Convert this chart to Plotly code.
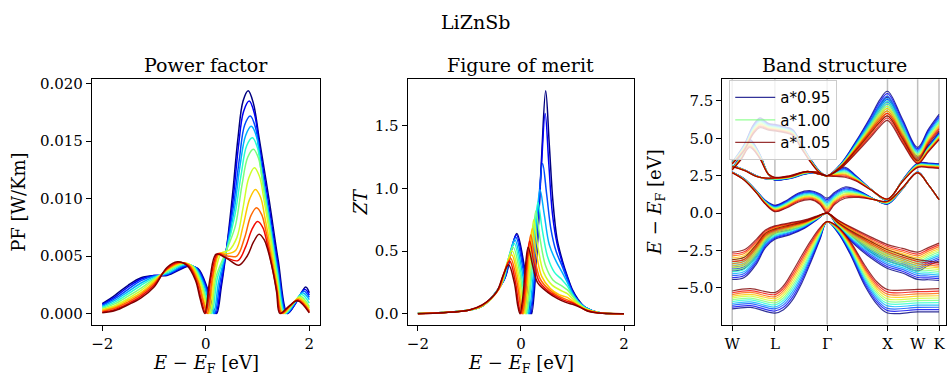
import plotly.graph_objects as go

W, H = 950, 379

# ---------------- data ----------------
scale_factors = [0.95, 0.96, 0.97, 0.98, 0.99, 1.00, 1.01, 1.02, 1.03, 1.04, 1.05]

# Power factor, energy [eV] and PF [1e-3 W/Km], one list per lattice scaling
pf_energy = [
    [-2.0,-1.75,-1.5,-1.25,-1.0,-0.75,-0.33,-0.15,0.03,0.12,0.21,0.3,0.4,0.52,0.62,0.72,0.82,0.92,1.03,1.22,1.4,1.58,1.75,1.93,2.0],
    [-2.0,-1.75,-1.5,-1.25,-1.0,-0.75,-0.35,-0.17,0.01,0.10,0.19,0.29,0.4,0.53,0.63,0.73,0.84,0.94,1.04,1.22,1.39,1.57,1.74,1.91,2.0],
    [-2.0,-1.75,-1.5,-1.25,-1.0,-0.75,-0.37,-0.19,-0.01,0.08,0.17,0.27,0.4,0.54,0.65,0.75,0.86,0.96,1.05,1.22,1.39,1.56,1.73,1.89,2.0],
    [-2.0,-1.75,-1.5,-1.25,-1.0,-0.75,-0.39,-0.21,-0.03,0.06,0.15,0.25,0.4,0.55,0.66,0.77,0.88,0.98,1.07,1.23,1.38,1.54,1.71,1.87,2.0],
    [-2.0,-1.75,-1.5,-1.25,-1.0,-0.75,-0.41,-0.23,-0.06,0.03,0.12,0.22,0.4,0.56,0.68,0.79,0.9,1.0,1.08,1.23,1.38,1.53,1.7,1.85,2.0],
    [-2.0,-1.75,-1.5,-1.25,-1.0,-0.75,-0.43,-0.25,-0.08,0.01,0.10,0.2,0.4,0.57,0.7,0.81,0.92,1.02,1.1,1.24,1.37,1.51,1.68,1.83,2.0],
    [-2.0,-1.75,-1.5,-1.25,-1.0,-0.75,-0.45,-0.27,-0.10,-0.01,0.08,0.18,0.3,0.45,0.6,0.72,0.83,0.94,1.04,1.12,1.25,1.37,1.5,1.66,1.81,2.0],
    [-2.0,-1.75,-1.5,-1.25,-1.0,-0.75,-0.47,-0.29,-0.13,-0.04,0.05,0.15,0.27,0.42,0.58,0.72,0.85,0.96,1.06,1.14,1.26,1.37,1.49,1.65,1.8,2.0],
    [-2.0,-1.75,-1.5,-1.25,-1.0,-0.75,-0.50,-0.32,-0.15,-0.06,0.03,0.13,0.25,0.42,0.6,0.75,0.87,0.98,1.08,1.16,1.27,1.37,1.47,1.63,1.79,2.0],
    [-2.0,-1.75,-1.5,-1.25,-1.0,-0.75,-0.52,-0.34,-0.18,-0.09,0.0,0.1,0.23,0.4,0.62,0.77,0.89,1.0,1.1,1.18,1.28,1.37,1.45,1.62,1.78,2.0],
    [-2.0,-1.75,-1.5,-1.25,-1.0,-0.75,-0.55,-0.37,-0.20,-0.11,-0.02,0.08,0.2,0.4,0.64,0.8,0.92,1.03,1.13,1.2,1.3,1.37,1.43,1.6,1.77,2.0],
]
pf_value = [
    [0.85,1.6,2.45,3.1,3.3,3.3,4.1,3.9,2.2,0.8,0.0,2.3,5.6,10.5,15.2,18.5,19.4,18.3,15.3,10.0,4.6,0.0,1.0,2.3,1.8],
    [0.78,1.45,2.3,3.0,3.3,3.35,4.15,3.95,2.3,0.85,0.0,2.4,5.6,10.0,14.5,17.6,18.5,17.4,14.5,9.4,4.4,0.0,0.9,2.1,1.6],
    [0.70,1.3,2.1,2.85,3.25,3.4,4.2,3.98,2.35,0.9,0.0,2.6,5.6,9.5,13.5,16.4,17.2,16.2,13.6,8.7,4.0,0.0,0.9,1.95,1.4],
    [0.60,1.15,1.9,2.65,3.2,3.45,4.25,4.02,2.4,0.95,0.0,2.8,5.5,9.0,12.8,15.5,16.3,15.4,12.8,8.3,3.8,0.0,0.9,1.8,1.2],
    [0.52,1.0,1.7,2.45,3.1,3.55,4.3,4.06,2.5,1.0,0.0,3.0,5.5,8.5,12.0,14.6,15.3,14.4,12.0,7.8,3.6,0.0,0.85,1.65,0.9],
    [0.43,0.85,1.5,2.2,3.0,3.65,4.35,4.1,2.55,1.05,0.0,3.2,5.5,7.6,11.2,13.6,14.3,13.5,11.4,7.3,3.4,0.0,0.8,1.5,0.6],
    [0.35,0.7,1.3,2.0,2.9,3.75,4.38,4.12,2.6,1.1,0.0,3.4,5.25,5.5,6.6,9.2,11.8,12.7,11.9,10.0,6.5,3.0,0.0,0.75,1.4,0.45],
    [0.27,0.58,1.15,1.8,2.75,3.8,4.4,4.14,2.7,1.15,0.0,3.3,5.25,5.2,5.5,7.6,10.0,10.8,10.1,8.4,5.5,2.6,0.0,0.7,1.3,0.3],
    [0.18,0.47,1.0,1.65,2.6,3.85,4.42,4.16,2.75,1.2,0.0,3.2,5.2,5.0,5.0,6.6,8.5,9.2,8.6,7.2,4.7,2.3,0.0,0.65,1.2,0.2],
    [0.1,0.35,0.85,1.5,2.45,3.9,4.45,4.18,2.85,1.25,0.0,3.1,5.2,4.85,4.6,5.8,7.3,8.0,7.5,6.2,4.1,2.0,0.0,0.65,1.15,0.1],
    [0.05,0.25,0.75,1.35,2.3,4.0,4.5,4.2,2.9,1.3,0.0,3.0,5.15,4.8,4.2,5.0,6.2,6.9,6.4,5.5,3.6,1.8,0.0,0.6,1.1,0.05],
]
PF_UNIT = 1e-3

# Figure of merit ZT
zt_energy = [
    [-2.0,-1.5,-1.0,-0.75,-0.32,-0.19,-0.08,0.065,0.17,0.21,0.305,0.40,0.48,0.55,0.62,0.7,0.8,0.9,1.0,1.1,1.25,1.5,2.0],
    [-2.0,-1.5,-1.0,-0.75,-0.33,-0.20,-0.09,0.05,0.15,0.19,0.29,0.39,0.47,0.54,0.61,0.7,0.8,0.9,1.0,1.1,1.25,1.5,2.0],
    [-2.0,-1.5,-1.0,-0.75,-0.34,-0.21,-0.10,0.035,0.13,0.17,0.26,0.345,0.42,0.5,0.58,0.68,0.8,0.9,1.0,1.1,1.25,1.5,2.0],
    [-2.0,-1.5,-1.0,-0.75,-0.36,-0.23,-0.12,0.015,0.11,0.15,0.227,0.304,0.37,0.45,0.55,0.68,0.8,0.9,1.0,1.1,1.25,1.5,2.0],
    [-2.0,-1.5,-1.0,-0.75,-0.37,-0.24,-0.13,-0.005,0.08,0.12,0.19,0.27,0.33,0.41,0.52,0.65,0.8,0.9,1.0,1.1,1.25,1.5,2.0],
    [-2.0,-1.5,-1.0,-0.75,-0.39,-0.26,-0.15,-0.025,0.06,0.10,0.167,0.233,0.29,0.37,0.48,0.62,0.8,0.9,1.0,1.1,1.25,1.5,2.0],
    [-2.0,-1.5,-1.0,-0.75,-0.41,-0.28,-0.17,-0.045,0.04,0.08,0.14,0.20,0.25,0.33,0.44,0.6,0.8,0.9,1.0,1.1,1.25,1.5,2.0],
    [-2.0,-1.5,-1.0,-0.75,-0.42,-0.29,-0.18,-0.065,0.01,0.05,0.11,0.17,0.22,0.3,0.4,0.57,0.75,0.9,1.0,1.1,1.25,1.5,2.0],
    [-2.0,-1.5,-1.0,-0.75,-0.44,-0.31,-0.20,-0.085,-0.01,0.03,0.086,0.142,0.19,0.27,0.37,0.55,0.73,0.9,1.0,1.1,1.25,1.5,2.0],
    [-2.0,-1.5,-1.0,-0.75,-0.46,-0.33,-0.22,-0.11,-0.04,0.0,0.06,0.12,0.17,0.25,0.35,0.53,0.72,0.88,1.0,1.12,1.28,1.5,2.0],
    [-2.0,-1.5,-1.0,-0.75,-0.48,-0.35,-0.24,-0.13,-0.06,-0.02,0.036,0.092,0.14,0.23,0.32,0.52,0.71,0.87,1.0,1.15,1.3,1.5,2.0],
]
zt_value = [
    [0.005,0.01,0.03,0.06,0.275,0.5,0.64,0.38,0.09,0.0,0.45,1.25,1.78,1.35,0.9,0.6,0.43,0.3,0.19,0.12,0.05,0.01,0.0],
    [0.004,0.01,0.03,0.06,0.27,0.49,0.63,0.38,0.09,0.0,0.4,1.12,1.6,1.2,0.8,0.56,0.41,0.29,0.18,0.11,0.05,0.01,0.0],
    [0.003,0.01,0.03,0.06,0.26,0.475,0.61,0.37,0.09,0.0,0.3,0.9,1.2,0.95,0.68,0.5,0.38,0.27,0.17,0.11,0.05,0.01,0.0],
    [0.003,0.01,0.03,0.06,0.255,0.46,0.59,0.355,0.09,0.0,0.25,0.74,0.99,0.8,0.55,0.42,0.33,0.25,0.16,0.1,0.05,0.01,0.0],
    [0.002,0.01,0.03,0.06,0.24,0.44,0.56,0.34,0.085,0.0,0.22,0.67,0.89,0.68,0.45,0.33,0.27,0.22,0.15,0.1,0.045,0.01,0.0],
    [0.002,0.01,0.03,0.06,0.23,0.415,0.53,0.33,0.08,0.0,0.2,0.61,0.82,0.6,0.38,0.27,0.22,0.19,0.14,0.09,0.04,0.01,0.0],
    [0.001,0.01,0.03,0.06,0.215,0.39,0.5,0.31,0.075,0.0,0.19,0.56,0.75,0.53,0.33,0.23,0.18,0.16,0.12,0.08,0.04,0.01,0.0],
    [0.001,0.009,0.03,0.065,0.2,0.365,0.47,0.29,0.07,0.0,0.17,0.51,0.68,0.48,0.3,0.2,0.15,0.13,0.1,0.07,0.035,0.008,0.0],
    [0.0,0.009,0.03,0.065,0.19,0.345,0.44,0.27,0.065,0.0,0.16,0.47,0.63,0.44,0.28,0.19,0.14,0.11,0.09,0.065,0.03,0.007,0.0],
    [0.0,0.008,0.03,0.07,0.18,0.325,0.42,0.26,0.06,0.0,0.145,0.435,0.58,0.41,0.26,0.18,0.13,0.1,0.085,0.06,0.025,0.006,0.0],
    [0.0,0.008,0.03,0.07,0.17,0.3,0.39,0.25,0.06,0.0,0.13,0.4,0.53,0.38,0.25,0.17,0.12,0.09,0.075,0.05,0.02,0.005,0.0],
]

# Band structure: high-symmetry path
kpath_labels = ["W", "L", "Γ", "X", "W", "K"]
kpath_pos = [0.0, 0.707, 1.573, 2.573, 3.073, 3.427]

# each row: energies [eV] at one k point for the 11 lattice scalings (0.95 ... 1.05)
band_v3_k = [0.0, 0.3, 0.707, 0.85, 1.0, 1.15, 1.3, 1.45, 1.573, 1.75, 1.95, 2.2, 2.4, 2.573, 3.073, 3.427]
band_v3_rows = [
    [-6.40,-6.28,-6.16,-6.04,-5.92,-5.80,-5.68,-5.56,-5.44,-5.32,-5.20],
    [-6.30,-6.18,-6.05,-5.93,-5.80,-5.68,-5.55,-5.43,-5.30,-5.18,-5.05],
    [-6.68,-6.54,-6.40,-6.27,-6.13,-5.99,-5.85,-5.71,-5.58,-5.44,-5.30],
    [-6.45,-6.29,-6.13,-5.97,-5.81,-5.65,-5.49,-5.33,-5.17,-5.01,-4.85],
    [-5.80,-5.61,-5.42,-5.23,-5.04,-4.85,-4.66,-4.47,-4.28,-4.09,-3.90],
    [-4.70,-4.52,-4.33,-4.15,-3.96,-3.78,-3.59,-3.41,-3.22,-3.04,-2.85],
    [-3.30,-3.16,-3.01,-2.87,-2.72,-2.58,-2.43,-2.29,-2.14,-2.00,-1.85],
    [-1.80,-1.72,-1.64,-1.56,-1.48,-1.40,-1.32,-1.24,-1.16,-1.08,-1.00],
    [-0.57,-0.57,-0.57,-0.57,-0.57,-0.57,-0.57,-0.57,-0.57,-0.57,-0.57],
    [-1.30,-1.26,-1.22,-1.18,-1.14,-1.10,-1.06,-1.02,-0.98,-0.94,-0.90],
    [-2.70,-2.62,-2.53,-2.45,-2.36,-2.28,-2.19,-2.11,-2.02,-1.94,-1.85],
    [-4.87,-4.73,-4.60,-4.46,-4.32,-4.19,-4.05,-3.91,-3.77,-3.64,-3.50],
    [-6.10,-5.95,-5.80,-5.65,-5.50,-5.35,-5.20,-5.05,-4.90,-4.75,-4.60],
    [-6.67,-6.51,-6.36,-6.20,-6.04,-5.89,-5.73,-5.57,-5.41,-5.26,-5.10],
    [-6.60,-6.45,-6.30,-6.15,-6.00,-5.85,-5.70,-5.55,-5.40,-5.25,-5.10],
    [-6.60,-6.45,-6.29,-6.14,-5.98,-5.83,-5.67,-5.52,-5.36,-5.21,-5.05],
]

band_v2_k = [0.0, 0.2, 0.4, 0.55, 0.707, 0.95, 1.2, 1.4, 1.573, 1.75, 2.0, 2.3, 2.573, 2.82, 3.073, 3.25, 3.427]
band_v2_rows = [
    [-4.43,-4.30,-4.16,-4.03,-3.90,-3.77,-3.63,-3.50,-3.37,-3.23,-3.10],
    [-4.30,-4.17,-4.03,-3.90,-3.76,-3.63,-3.49,-3.36,-3.22,-3.09,-2.95],
    [-3.40,-3.27,-3.14,-3.01,-2.88,-2.75,-2.62,-2.49,-2.36,-2.23,-2.10],
    [-2.30,-2.21,-2.11,-2.02,-1.92,-1.83,-1.73,-1.64,-1.54,-1.45,-1.35],
    [-1.75,-1.68,-1.61,-1.54,-1.47,-1.40,-1.33,-1.26,-1.19,-1.12,-1.05],
    [-1.45,-1.39,-1.32,-1.26,-1.19,-1.13,-1.06,-1.00,-0.93,-0.87,-0.80],
    [-1.00,-0.96,-0.91,-0.87,-0.82,-0.78,-0.73,-0.69,-0.64,-0.60,-0.55],
    [-0.45,-0.43,-0.41,-0.39,-0.37,-0.35,-0.33,-0.31,-0.29,-0.27,-0.25],
    [0.00,0.00,0.00,0.00,0.00,0.00,0.00,0.00,0.00,0.00,0.00],
    [-0.90,-0.87,-0.84,-0.81,-0.78,-0.75,-0.72,-0.69,-0.66,-0.63,-0.60],
    [-2.00,-1.93,-1.85,-1.78,-1.70,-1.63,-1.55,-1.48,-1.40,-1.33,-1.25],
    [-3.00,-2.89,-2.78,-2.67,-2.56,-2.45,-2.34,-2.23,-2.12,-2.01,-1.90],
    [-3.70,-3.58,-3.45,-3.33,-3.20,-3.08,-2.95,-2.83,-2.70,-2.58,-2.45],
    [-4.00,-3.88,-3.76,-3.64,-3.52,-3.40,-3.28,-3.16,-3.04,-2.92,-2.80],
    [-4.43,-4.30,-4.16,-4.03,-3.90,-3.77,-3.63,-3.50,-3.37,-3.23,-3.10],
    [-4.45,-4.33,-4.20,-4.08,-3.95,-3.83,-3.70,-3.58,-3.45,-3.33,-3.20],
    [-4.50,-4.38,-4.26,-4.14,-4.02,-3.90,-3.78,-3.66,-3.54,-3.42,-3.30],
]

band_v1_k = [0.0, 0.2, 0.4, 0.55, 0.707, 0.95, 1.2, 1.4, 1.573, 1.75, 2.0, 2.3, 2.573, 2.82, 3.073, 3.25, 3.427]
band_v1_rows = [
    [-3.87,-3.74,-3.62,-3.49,-3.36,-3.24,-3.11,-2.98,-2.85,-2.73,-2.60],
    [-3.70,-3.58,-3.45,-3.33,-3.20,-3.08,-2.95,-2.83,-2.70,-2.58,-2.45],
    [-2.90,-2.79,-2.67,-2.56,-2.44,-2.33,-2.21,-2.10,-1.98,-1.87,-1.75],
    [-1.95,-1.87,-1.78,-1.70,-1.62,-1.54,-1.45,-1.37,-1.29,-1.20,-1.12],
    [-1.35,-1.30,-1.25,-1.20,-1.15,-1.10,-1.05,-1.00,-0.95,-0.90,-0.85],
    [-1.15,-1.10,-1.05,-1.00,-0.95,-0.90,-0.85,-0.80,-0.75,-0.70,-0.65],
    [-0.80,-0.77,-0.73,-0.70,-0.66,-0.63,-0.59,-0.56,-0.52,-0.49,-0.45],
    [-0.35,-0.34,-0.32,-0.31,-0.29,-0.28,-0.26,-0.25,-0.23,-0.22,-0.20],
    [0.00,0.00,0.00,0.00,0.00,0.00,0.00,0.00,0.00,0.00,0.00],
    [-0.70,-0.68,-0.65,-0.63,-0.60,-0.58,-0.55,-0.53,-0.50,-0.48,-0.45],
    [-1.60,-1.54,-1.48,-1.42,-1.36,-1.30,-1.24,-1.18,-1.12,-1.06,-1.00],
    [-2.60,-2.50,-2.40,-2.30,-2.20,-2.10,-2.00,-1.90,-1.80,-1.70,-1.60],
    [-3.20,-3.09,-2.98,-2.87,-2.76,-2.65,-2.54,-2.43,-2.32,-2.21,-2.10],
    [-3.50,-3.39,-3.27,-3.16,-3.04,-2.93,-2.81,-2.70,-2.58,-2.47,-2.35],
    [-3.87,-3.74,-3.62,-3.49,-3.36,-3.24,-3.11,-2.98,-2.85,-2.73,-2.60],
    [-3.50,-3.38,-3.26,-3.14,-3.02,-2.90,-2.78,-2.66,-2.54,-2.42,-2.30],
    [-3.20,-3.08,-2.96,-2.84,-2.72,-2.60,-2.48,-2.36,-2.24,-2.12,-2.00],
]

band_c1_k = [0.0, 0.2, 0.4, 0.55, 0.707, 0.9, 1.1, 1.3, 1.45, 1.573, 1.7, 1.87, 2.1, 2.35, 2.573, 2.82, 3.073, 3.25, 3.427]
band_c1_rows = [
    [2.75,2.75,2.74,2.74,2.73,2.73,2.72,2.72,2.71,2.71,2.70],
    [2.30,2.29,2.28,2.27,2.26,2.25,2.24,2.23,2.22,2.21,2.20],
    [1.50,1.49,1.47,1.46,1.44,1.43,1.41,1.40,1.38,1.37,1.35],
    [0.85,0.83,0.80,0.78,0.75,0.73,0.70,0.68,0.65,0.63,0.60],
    [0.53,0.49,0.44,0.40,0.36,0.32,0.27,0.23,0.19,0.14,0.10],
    [0.85,0.80,0.75,0.70,0.65,0.60,0.55,0.50,0.45,0.40,0.35],
    [1.35,1.29,1.23,1.17,1.11,1.05,0.99,0.93,0.87,0.81,0.75],
    [1.50,1.44,1.38,1.32,1.26,1.20,1.14,1.08,1.02,0.96,0.90],
    [1.30,1.23,1.16,1.09,1.02,0.95,0.88,0.81,0.74,0.67,0.60],
    [1.00,0.90,0.80,0.70,0.60,0.50,0.40,0.30,0.20,0.10,0.00],
    [1.40,1.32,1.24,1.16,1.08,1.00,0.92,0.84,0.76,0.68,0.60],
    [1.75,1.68,1.60,1.53,1.45,1.38,1.30,1.23,1.15,1.08,1.00],
    [1.50,1.46,1.41,1.37,1.32,1.28,1.23,1.19,1.14,1.10,1.05],
    [0.95,0.95,0.94,0.94,0.93,0.93,0.92,0.92,0.91,0.91,0.90],
    [0.60,0.62,0.64,0.66,0.68,0.70,0.72,0.74,0.76,0.78,0.80],
    [1.60,1.61,1.62,1.63,1.64,1.65,1.66,1.67,1.68,1.69,1.70],
    [2.75,2.75,2.74,2.74,2.73,2.73,2.72,2.72,2.71,2.71,2.70],
    [1.90,1.90,1.90,1.90,1.90,1.90,1.90,1.90,1.90,1.90,1.90],
    [0.90,0.90,0.90,0.90,0.90,0.90,0.90,0.90,0.90,0.90,0.90],
]

band_c2_k = [0.0, 0.15, 0.29, 0.45, 0.6, 0.707, 0.95, 1.25, 1.45, 1.573, 1.72, 1.87, 2.05, 2.3, 2.573, 2.82, 3.073, 3.25, 3.427]
band_c2_rows = [
    [3.00,2.99,2.98,2.97,2.96,2.95,2.94,2.93,2.92,2.91,2.90],
    [3.90,3.87,3.84,3.81,3.78,3.75,3.72,3.69,3.66,3.63,3.60],
    [4.94,4.89,4.83,4.78,4.72,4.67,4.61,4.56,4.50,4.45,4.39],
    [4.00,3.97,3.94,3.91,3.88,3.85,3.82,3.79,3.76,3.73,3.70],
    [2.60,2.60,2.60,2.60,2.60,2.60,2.60,2.60,2.60,2.60,2.60],
    [2.20,2.22,2.24,2.26,2.28,2.30,2.32,2.34,2.36,2.38,2.40],
    [2.35,2.37,2.38,2.40,2.41,2.43,2.44,2.46,2.47,2.49,2.50],
    [2.75,2.76,2.76,2.77,2.77,2.78,2.78,2.79,2.79,2.80,2.80],
    [2.60,2.60,2.60,2.60,2.60,2.60,2.60,2.60,2.60,2.60,2.60],
    [2.50,2.50,2.50,2.50,2.50,2.50,2.50,2.50,2.50,2.50,2.50],
    [2.85,2.81,2.77,2.73,2.69,2.65,2.61,2.57,2.53,2.49,2.45],
    [3.07,3.00,2.94,2.87,2.80,2.74,2.67,2.60,2.54,2.47,2.40],
    [2.50,2.47,2.43,2.40,2.36,2.33,2.29,2.26,2.22,2.19,2.15],
    [1.60,1.60,1.59,1.59,1.58,1.58,1.57,1.57,1.56,1.56,1.55],
    [0.85,0.86,0.87,0.88,0.89,0.90,0.91,0.92,0.93,0.94,0.95],
    [2.20,2.19,2.18,2.17,2.16,2.15,2.14,2.13,2.12,2.11,2.10],
    [3.35,3.32,3.29,3.26,3.23,3.20,3.17,3.14,3.11,3.08,3.05],
    [3.35,3.32,3.29,3.26,3.23,3.20,3.17,3.14,3.11,3.08,3.05],
    [3.30,3.27,3.24,3.21,3.18,3.15,3.12,3.09,3.06,3.03,3.00],
]

band_c3_k = [0.0, 0.2, 0.35, 0.46, 0.6, 0.707, 0.85, 1.0, 1.15, 1.3, 1.45, 1.573, 1.8, 2.05, 2.3, 2.45, 2.573, 2.82, 3.073, 3.25, 3.427]
band_c3_rows = [
    [3.40,3.39,3.38,3.37,3.36,3.35,3.34,3.33,3.32,3.31,3.30],
    [4.60,4.56,4.52,4.48,4.44,4.40,4.36,4.32,4.28,4.24,4.20],
    [5.90,5.84,5.78,5.72,5.66,5.60,5.54,5.48,5.42,5.36,5.30],
    [6.37,6.30,6.24,6.17,6.11,6.04,5.97,5.91,5.84,5.78,5.71],
    [6.00,5.96,5.91,5.87,5.82,5.78,5.73,5.69,5.64,5.60,5.55],
    [5.93,5.89,5.84,5.80,5.76,5.72,5.67,5.63,5.59,5.54,5.50],
    [5.80,5.76,5.72,5.68,5.64,5.60,5.56,5.52,5.48,5.44,5.40],
    [5.60,5.56,5.52,5.48,5.44,5.40,5.36,5.32,5.28,5.24,5.20],
    [4.60,4.57,4.54,4.51,4.48,4.45,4.42,4.39,4.36,4.33,4.30],
    [3.60,3.58,3.56,3.54,3.52,3.50,3.48,3.46,3.44,3.42,3.40],
    [2.80,2.79,2.78,2.77,2.76,2.75,2.74,2.73,2.72,2.71,2.70],
    [2.50,2.50,2.50,2.50,2.50,2.50,2.50,2.50,2.50,2.50,2.50],
    [3.30,3.28,3.26,3.24,3.22,3.20,3.18,3.16,3.14,3.12,3.10],
    [4.80,4.74,4.68,4.62,4.56,4.50,4.44,4.38,4.32,4.26,4.20],
    [6.50,6.39,6.28,6.17,6.06,5.95,5.84,5.73,5.62,5.51,5.40],
    [7.60,7.45,7.30,7.15,7.00,6.85,6.70,6.55,6.40,6.25,6.10],
    [8.15,7.99,7.82,7.66,7.49,7.33,7.16,7.00,6.83,6.67,6.50],
    [6.30,6.17,6.04,5.91,5.78,5.65,5.52,5.39,5.26,5.13,5.00],
    [4.40,4.31,4.22,4.13,4.04,3.95,3.86,3.77,3.68,3.59,3.50],
    [5.60,5.50,5.40,5.30,5.20,5.10,5.00,4.90,4.80,4.70,4.60],
    [6.60,6.49,6.38,6.27,6.16,6.05,5.94,5.83,5.72,5.61,5.50],
]

band_c4_k = [0.0, 0.2, 0.4, 0.55, 0.707, 0.95, 1.2, 1.4, 1.573, 1.8, 2.05, 2.3, 2.45, 2.573, 2.82, 3.073, 3.25, 3.427]
band_c4_rows = [
    [3.20,3.19,3.18,3.17,3.16,3.15,3.14,3.13,3.12,3.11,3.10],
    [2.90,2.90,2.89,2.89,2.88,2.88,2.87,2.87,2.86,2.86,2.85],
    [2.50,2.50,2.49,2.49,2.48,2.48,2.47,2.47,2.46,2.46,2.45],
    [2.30,2.30,2.31,2.31,2.32,2.32,2.33,2.33,2.34,2.34,2.35],
    [2.25,2.26,2.27,2.28,2.29,2.30,2.31,2.32,2.33,2.34,2.35],
    [2.30,2.32,2.33,2.35,2.36,2.38,2.39,2.41,2.42,2.44,2.45],
    [2.60,2.62,2.63,2.65,2.66,2.68,2.69,2.71,2.72,2.74,2.75],
    [2.70,2.70,2.71,2.71,2.72,2.72,2.73,2.73,2.74,2.74,2.75],
    [2.50,2.50,2.50,2.50,2.50,2.50,2.50,2.50,2.50,2.50,2.50],
    [3.20,3.18,3.16,3.14,3.12,3.10,3.08,3.06,3.04,3.02,3.00],
    [4.60,4.54,4.48,4.42,4.36,4.30,4.24,4.18,4.12,4.06,4.00],
    [6.20,6.09,5.98,5.87,5.76,5.65,5.54,5.43,5.32,5.21,5.10],
    [7.20,7.06,6.92,6.78,6.64,6.50,6.36,6.22,6.08,5.94,5.80],
    [7.75,7.60,7.44,7.29,7.13,6.98,6.82,6.67,6.51,6.36,6.20],
    [5.80,5.69,5.58,5.47,5.36,5.25,5.14,5.03,4.92,4.81,4.70],
    [3.80,3.75,3.70,3.65,3.60,3.55,3.50,3.45,3.40,3.35,3.30],
    [4.50,4.46,4.42,4.38,4.34,4.30,4.26,4.22,4.18,4.14,4.10],
    [5.40,5.35,5.30,5.25,5.20,5.15,5.10,5.05,5.00,4.95,4.90],
]

# ---------------- style ----------------
SERIF = "DejaVu Serif"
SANS = "DejaVu Sans"


def jet(t):
    def seg(pts, v):
        for (x0, y0), (x1, y1) in zip(pts, pts[1:]):
            if x0 <= v <= x1:
                return y0 + (y1 - y0) * (v - x0) / (x1 - x0)
        return pts[-1][1]
    r = seg([(0, 0), (0.35, 0), (0.66, 1), (0.89, 1), (1, 0.5)], t)
    g = seg([(0, 0), (0.125, 0), (0.375, 1), (0.64, 1), (0.91, 0), (1, 0)], t)
    b = seg([(0, 0.5), (0.11, 1), (0.34, 1), (0.65, 0), (1, 0)], t)
    return "rgb(%d,%d,%d)" % (round(r * 255), round(g * 255), round(b * 255))


n = len(scale_factors)
colors = [jet(i / (n - 1)) for i in range(n)]

fig = go.Figure()

for i in range(n):
    fig.add_trace(go.Scatter(
        x=pf_energy[i], y=[v * PF_UNIT for v in pf_value[i]], mode="lines",
        line=dict(color=colors[i], width=1.5, shape="spline", smoothing=1.0),
        xaxis="x", yaxis="y", showlegend=False, hoverinfo="skip"))

for i in range(n):
    fig.add_trace(go.Scatter(
        x=zt_energy[i], y=zt_value[i], mode="lines",
        line=dict(color=colors[i], width=1.5, shape="spline", smoothing=1.0),
        xaxis="x2", yaxis="y2", showlegend=False, hoverinfo="skip"))

bands = [
    (band_v3_k, band_v3_rows), (band_v2_k, band_v2_rows), (band_v1_k, band_v1_rows),
    (band_c1_k, band_c1_rows), (band_c2_k, band_c2_rows), (band_c3_k, band_c3_rows),
    (band_c4_k, band_c4_rows),
]
legend_idx = {0, 5, 10}
for i in range(n):
    for b, (kk, rows) in enumerate(bands):
        curve = [row[i] for row in rows]
        fig.add_trace(go.Scatter(
            x=kk, y=curve, mode="lines",
            line=dict(color=colors[i], width=1.2, shape="spline", smoothing=1.0),
            opacity=0.8,
            xaxis="x3", yaxis="y3", name="a*%.2f" % scale_factors[i],
            showlegend=(b == 0 and i in legend_idx), hoverinfo="skip"))

ydom = [1 - 324 / H, 1 - 76 / H]
axis_common = dict(showline=True, mirror=True, linecolor="black", linewidth=1,
                   ticks="outside", ticklen=5, tickwidth=1, tickcolor="black",
                   showgrid=False, zeroline=False,
                   tickfont=dict(family=SERIF, size=15, color="black"))

fig.update_layout(
    width=W, height=H, autosize=False,
    margin=dict(l=0, r=0, t=0, b=0),
    paper_bgcolor="white", plot_bgcolor="white",
    font=dict(family=SERIF, color="black"),
    xaxis=dict(domain=[91 / W, 319 / W], range=[-2.2, 2.2], dtick=2, tick0=0, anchor="y", **axis_common),
    yaxis=dict(domain=ydom, range=[-0.000974, 0.020405], dtick=0.005, tick0=0, tickformat=".3f", anchor="x", **axis_common),
    xaxis2=dict(domain=[407 / W, 634 / W], range=[-2.2, 2.2], dtick=2, tick0=0, anchor="y2", **axis_common),
    yaxis2=dict(domain=ydom, range=[-0.087, 1.873], dtick=0.5, tick0=0, tickformat=".1f", anchor="x2", **axis_common),
    xaxis3=dict(domain=[722 / W, 946 / W], range=[-0.1656, 3.543], tickvals=kpath_pos, ticktext=kpath_labels, anchor="y3", **axis_common),
    yaxis3=dict(domain=ydom, range=[-7.447, 8.955], dtick=2.5, tick0=0, tickformat=".1f", anchor="x3", **axis_common),
    legend=dict(x=729 / W, y=1 - 77 / H, xanchor="left", yanchor="top",
                bgcolor="rgba(255,255,255,0.8)", bordercolor="#cccccc", borderwidth=1,
                font=dict(family=SANS, size=15, color="black"), itemwidth=40, tracegroupgap=0),
)

for kp in kpath_pos:
    fig.add_shape(type="line", xref="x3", yref="y3 domain", x0=kp, x1=kp, y0=0, y1=1,
                  line=dict(color="rgba(128,128,128,0.5)", width=1.5), layer="below")

ann = []
def add_text(text, xp, yp, size, angle=0):
    ann.append(dict(text=text, x=xp / W, y=1 - yp / H, xref="paper", yref="paper",
                    showarrow=False, xanchor="center", yanchor="middle", textangle=angle,
                    font=dict(family=SERIF, size=size, color="black")))

add_text("LiZnSb", 475, 18, 19)
add_text("Power factor", 205, 62, 19)
add_text("Figure of merit", 520.5, 62, 19)
add_text("Band structure", 834, 62, 19)
xlabel = "<i>E</i> − <i>E</i><sub>F</sub> [eV]"
add_text(xlabel, 205, 364, 18)
add_text(xlabel, 520.5, 364, 18)
add_text("PF [W/Km]", 18, 200, 18, -90)
add_text("<i>ZT</i>", 360, 200, 18, -90)
add_text(xlabel, 656, 200, 18, -90)
fig.update_layout(annotations=ann)

fig.write_html("out.html")
